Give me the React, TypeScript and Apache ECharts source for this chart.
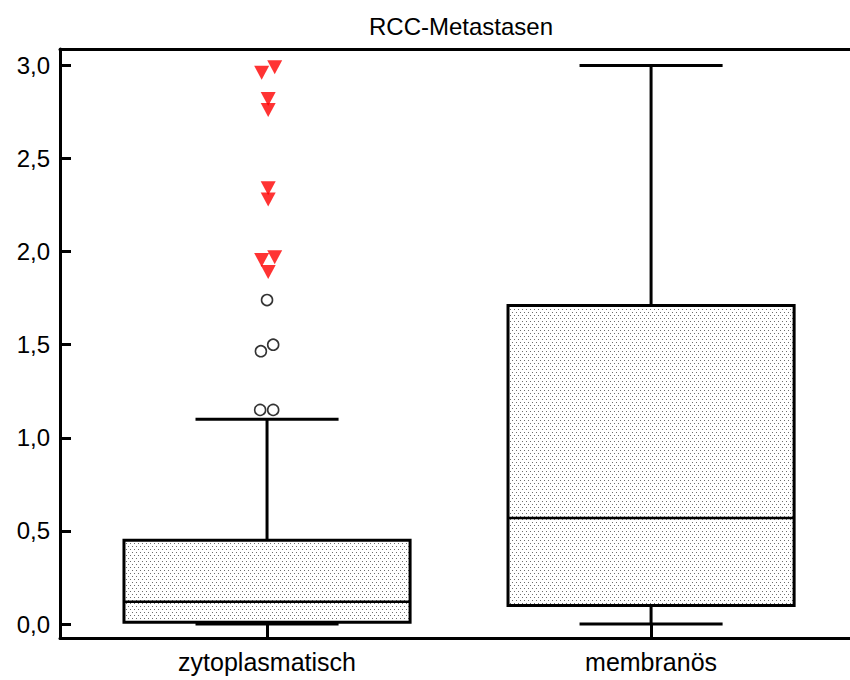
import React, { useEffect, useRef } from 'react';
import * as echarts from 'echarts';

const title = 'RCC-Metastasen';
const categories = ['zytoplasmatisch', 'membranös'];
const categoryPositions = [1, 2];
const whiskerLow = [0, 0];
const quartile1 = [0.01, 0.1];
const medians = [0.12, 0.57];
const quartile3 = [0.45, 1.71];
const whiskerHigh = [1.1, 3.0];

// open circles (outliers) for zytoplasmatisch, slight horizontal jitter
const circleX = [0.982, 1.016, 0.984, 1.016, 1.0];
const circleY = [1.15, 1.15, 1.465, 1.5, 1.74];

// red triangles (extreme values) for zytoplasmatisch
const triangleX = [0.986, 1.02, 1.003, 1.003, 1.003, 1.003, 1.02, 0.986, 1.003];
const triangleY = [2.96, 2.99, 2.82, 2.76, 2.34, 2.28, 1.97, 1.955, 1.89];

const yTicks = [0, 0.5, 1, 1.5, 2, 2.5, 3];

const FONT = 'Arial, "Liberation Sans", Helvetica, sans-serif';

function makePattern(): any {
  const c = document.createElement('canvas');
  c.width = 4;
  c.height = 6;
  const ctx = c.getContext('2d');
  if (ctx) {
    ctx.fillStyle = '#ffffff';
    ctx.fillRect(0, 0, 4, 6);
    ctx.fillStyle = '#6e6e6e';
    ctx.fillRect(0, 0, 1, 1);
    ctx.fillRect(2, 3, 1, 1);
  }
  return { image: c, repeat: 'repeat' };
}

export default function App() {
  const ref = useRef<HTMLDivElement>(null);
  useEffect(() => {
    if (!ref.current) return;
    const chart = echarts.init(ref.current, undefined, { renderer: 'svg' });
    const pattern = makePattern();
    const boxData = categoryPositions.map((x, i) => [
      x,
      whiskerLow[i],
      quartile1[i],
      medians[i],
      quartile3[i],
      whiskerHigh[i],
    ]);
    const boxWidth = 0.745;
    const option: any = {
      animation: false,
      backgroundColor: '#ffffff',
      title: {
        text: title,
        left: 364,
        top: 9,
        textStyle: { fontFamily: FONT, fontSize: 24, fontWeight: 'normal', color: '#000' },
      },
      grid: { left: 60, right: 0, top: 49, bottom: 42 },
      xAxis: [
        {
          type: 'value',
          min: 0.4609,
          max: 2.518,
          axisLine: { show: true, onZero: false, lineStyle: { color: '#000', width: 3 } },
          axisTick: {
            show: true,
            inside: true,
            length: 14,
            customValues: categoryPositions,
            lineStyle: { color: '#000', width: 3 },
          },
          axisLabel: {
            show: true,
            customValues: categoryPositions,
            formatter: (v: number) => {
              const idx = categoryPositions.indexOf(Math.round(v));
              return idx >= 0 ? categories[idx] : '';
            },
            fontFamily: FONT,
            fontSize: 25,
            color: '#000',
            margin: 11,
          },
          splitLine: { show: false },
        },
        {
          type: 'value',
          position: 'top',
          min: 0.4609,
          max: 2.518,
          axisLine: { show: true, onZero: false, lineStyle: { color: '#000', width: 3 } },
          axisTick: { show: false },
          axisLabel: { show: false },
          splitLine: { show: false },
        },
      ],
      yAxis: {
        type: 'value',
        min: -0.075,
        max: 3.088,
        axisLine: { show: true, onZero: false, lineStyle: { color: '#000', width: 3 } },
        axisTick: {
          show: true,
          inside: true,
          length: 11,
          customValues: yTicks,
          lineStyle: { color: '#000', width: 3 },
        },
        axisLabel: {
          customValues: yTicks,
          formatter: (v: number) => v.toFixed(1).replace('.', ','),
          fontFamily: FONT,
          fontSize: 24,
          color: '#000',
          margin: 10,
        },
        splitLine: { show: false },
      },
      series: [
        {
          type: 'custom',
          xAxisIndex: 0,
          data: boxData,
          clip: false,
          renderItem: (params: any, api: any) => {
            const x = api.value(0);
            const lo = api.coord([x, api.value(1)]);
            const q1 = api.coord([x, api.value(2)]);
            const md = api.coord([x, api.value(3)]);
            const q3 = api.coord([x, api.value(4)]);
            const hi = api.coord([x, api.value(5)]);
            const unit = api.size([1, 0])[0];
            const halfBox = (unit * boxWidth) / 2;
            const halfCap = halfBox / 2;
            const cx = lo[0];
            const ls = { stroke: '#000', lineWidth: 3 };
            return {
              type: 'group',
              children: [
                { type: 'line', shape: { x1: cx, y1: q3[1], x2: cx, y2: hi[1] }, style: ls },
                { type: 'line', shape: { x1: cx, y1: q1[1], x2: cx, y2: lo[1] }, style: ls },
                { type: 'line', shape: { x1: cx - halfCap, y1: hi[1], x2: cx + halfCap, y2: hi[1] }, style: ls },
                { type: 'line', shape: { x1: cx - halfCap, y1: lo[1], x2: cx + halfCap, y2: lo[1] }, style: ls },
                {
                  type: 'rect',
                  shape: { x: cx - halfBox, y: q3[1], width: halfBox * 2, height: q1[1] - q3[1] },
                  style: { fill: pattern, stroke: '#000', lineWidth: 3 },
                },
                {
                  type: 'line',
                  shape: { x1: cx - halfBox, y1: md[1], x2: cx + halfBox, y2: md[1] },
                  style: { stroke: '#000', lineWidth: 2.5 },
                },
              ],
            };
          },
        },
        {
          type: 'scatter',
          data: circleX.map((x, i) => [x, circleY[i]]),
          symbol: 'circle',
          symbolSize: 11,
          itemStyle: { color: 'transparent', borderColor: '#000', borderWidth: 1.6 },
          z: 5,
        },
        {
          type: 'scatter',
          data: triangleX.map((x, i) => [x, triangleY[i]]),
          symbol: 'triangle',
          symbolRotate: 180,
          symbolSize: [15, 14],
          itemStyle: { color: '#ff0000', borderColor: '#ff0000', borderWidth: 0 },
          z: 6,
        },
      ],
    };
    chart.setOption(option);
    return () => chart.dispose();
  }, []);
  return (
    <div
      ref={ref}
      style={{ position: 'fixed', left: 0, top: 0, width: 850, height: 680, background: '#fff' }}
    />
  );
}
